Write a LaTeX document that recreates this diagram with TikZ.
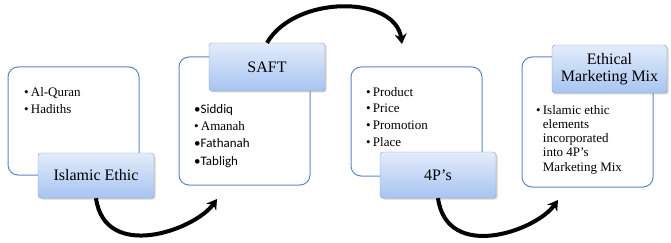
\documentclass[tikz,border=0pt]{standalone}
\usepackage{fontspec}
\setmainfont{Liberation Serif}
\newfontfamily\calibrifont{Carlito}
\usetikzlibrary{arrows.meta,shadows}
\definecolor{boxline}{HTML}{5B87C7}
\definecolor{tagtop}{HTML}{E3ECFB}
\definecolor{tagbottom}{HTML}{A7C4F1}
\definecolor{tagline}{HTML}{8A9DBB}

\begin{document}
\begin{tikzpicture}[x=1pt,y=-1pt,
  outerbox/.style={draw=boxline,line width=1pt,rounded corners=10pt,fill=white,minimum width=131pt},
  tagbox/.style={draw=tagline,rounded corners=3pt,top color=tagtop,bottom color=tagbottom,minimum width=116pt,
    font=\fontsize{16}{17}\selectfont,align=center,drop shadow={opacity=.35,shadow xshift=1.5pt,shadow yshift=-1.5pt}},
  itemlist/.style={anchor=north west,inner sep=0pt,align=left},
  flowarrow/.style={line width=4pt,-{Stealth[length=10pt,width=12pt]}}]
\useasboundingbox (0,0) rectangle (671,243);

\node[outerbox,minimum height=108pt] (box1) at (73.5,121) {};
\node[itemlist,font=\fontsize{13}{17}\selectfont] (list1) at (24,87) {\textbullet\,Al-Quran\\\textbullet\,Hadiths};
\node[tagbox,minimum height=45pt] (tag1) at (96,175.5) {Islamic Ethic};

\node[outerbox,minimum height=128pt] (box2) at (244.5,121) {};
\node[itemlist,font=\fontsize{13}{17.3}\selectfont] (list2) at (194,104) {{\calibrifont\textbullet Siddiq}\\\textbullet\,Amanah\\{\calibrifont\textbullet Fathanah}\\{\calibrifont\textbullet Tabligh}};
\node[tagbox,minimum height=48pt] (tag2) at (267,67) {SAFT};

\node[outerbox,minimum height=109pt] (box3) at (416.5,121.5) {};
\node[itemlist,font=\fontsize{13}{16.7}\selectfont] (list3) at (366,87) {\textbullet\,Product\\\textbullet\,Price\\\textbullet\,Promotion\\\textbullet\,Place};
\node[tagbox,minimum height=46pt] (tag3) at (438,175) {4P's};

\node[outerbox,minimum height=130pt] (box4) at (587.5,122) {};
\node[itemlist,font=\fontsize{13}{14.2}\selectfont] (list4) at (536,105) {\textbullet\,Islamic ethic\\\phantom{\textbullet\,}elements\\\phantom{\textbullet\,}incorporated\\\phantom{\textbullet\,}into 4P's\\\phantom{\textbullet\,}Marketing Mix};
\node[tagbox,minimum height=48pt,minimum width=115pt] (tag4) at (609.5,69) {Ethical\\Marketing Mix};

\coordinate (end1) at (217,199);
\coordinate (end2) at (402,44);
\coordinate (end3) at (558,200);
\draw[flowarrow] (tag1.south) .. controls +(9,64) and +(-22,31) .. (end1);
\draw[flowarrow] (tag2.north) .. controls +(28,-48) and +(-7,-49) .. (end2);
\draw[flowarrow] (tag3.south) .. controls +(9,64) and +(-22,31) .. (end3);
\end{tikzpicture}
\end{document}
